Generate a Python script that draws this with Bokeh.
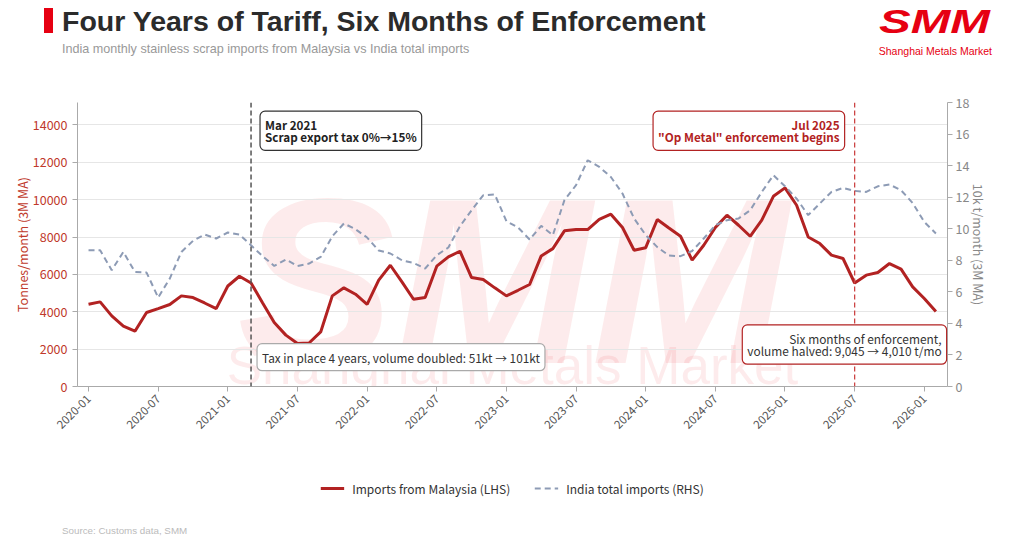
from bokeh.plotting import figure
from bokeh.models import (Range1d, LinearAxis, FixedTicker, Span, Label, Legend, LegendItem,
                          ColumnDataSource, Div)
from bokeh.layouts import column
from bokeh.core.properties import value
from bokeh.embed import file_html
from bokeh.resources import INLINE
import math

# ---------------- data ----------------
start_year = 2020
n_months = 74  # 2020-01 .. 2026-02
month_labels = [f"{start_year + i // 12}-{i % 12 + 1:02d}" for i in range(n_months)]

malaysia_t = [4400, 4530, 3780, 3230, 2960, 3960, 4170, 4390, 4850, 4760, 4470, 4170,
              5380, 5900, 5540, 4470, 3420, 2750, 2300, 2330, 2920, 4850, 5280, 4940,
              4400, 5690, 6490, 5600, 4670, 4760, 6440, 6940, 7240, 5830, 5730, 5280,
              4850, 5150, 5460, 6990, 7380, 8330, 8400, 8400, 8940, 9220, 8510, 7290,
              7430, 8940, 8480, 8040, 6760, 7560, 8510, 9170, 8630, 8040, 8900, 10180,
              10630, 9700, 8000, 7650, 7030, 6850, 5540, 5960, 6100, 6580, 6280, 5330,
              4710, 4010]

india_total_10kt = [8.64, 8.64, 7.37, 8.53, 7.26, 7.22, 5.64, 6.84, 8.53, 9.23, 9.63, 9.38,
                    9.76, 9.63, 8.95, 8.26, 7.64, 8.05, 7.64, 7.79, 8.21, 9.52, 10.33, 9.97,
                    9.44, 8.62, 8.43, 8.00, 7.83, 7.48, 8.32, 8.81, 10.16, 11.17, 12.12, 12.17,
                    10.48, 10.08, 9.32, 10.18, 9.59, 11.81, 12.76, 14.34, 13.92, 13.28, 12.23, 10.65,
                    9.60, 8.83, 8.30, 8.26, 8.59, 9.38, 10.22, 10.54, 10.65, 11.17, 12.33, 13.39,
                    12.69, 11.91, 10.86, 11.60, 12.33, 12.59, 12.40, 12.33, 12.69, 12.80, 12.44, 11.63,
                    10.43, 9.70]

x_tick_labels = ["2020-01", "2020-07", "2021-01", "2021-07", "2022-01", "2022-07", "2023-01",
                 "2023-07", "2024-01", "2024-07", "2025-01", "2025-07", "2026-01"]
left_ticks = [0, 2000, 4000, 6000, 8000, 10000, 12000, 14000]
right_ticks = [0, 2, 4, 6, 8, 10, 12, 14, 16, 18]

event_tax = "2021-03"
event_enf = "2025-07"

title_text = "Four Years of Tariff, Six Months of Enforcement"
subtitle_text = "India monthly stainless scrap imports from Malaysia vs India total imports"
source_text = "Source: Customs data, SMM"
series_names = ["Imports from Malaysia (LHS)", "India total imports (RHS)"]

# ---------------- styling ----------------
FONT = "Noto Sans CJK SC"
LOGO_FONT = "Liberation Sans"
RED_LINE = "#B22222"
BLUE_LINE = "#8D9BB5"
LEFT_COL = "#C0392B"
GRAY = "#888888"
AXIS_GRAY = "#AAAAAA"
DARK = "#222222"
BRAND = "#E60012"
W = 1008

# ---------------- header (inline svg text) ----------------
HH = 94
header_svg = f"""<svg xmlns="http://www.w3.org/2000/svg" width="{W}" height="{HH}" style="display:block">
<rect x="44" y="8" width="9" height="25" fill="{BRAND}"/>
<text x="62" y="30.7" font-family="{FONT}" font-size="28.5" font-weight="bold" fill="#2B2B2B">{title_text}</text>
<text x="62" y="53" font-family="{FONT}" font-size="12.6" fill="#999999">{subtitle_text}</text>
<text x="879" y="33" textLength="111" lengthAdjust="spacingAndGlyphs" font-family="{LOGO_FONT}" font-size="33" font-weight="bold" font-style="italic" fill="{BRAND}">SMM</text>
<text x="992" y="55" text-anchor="end" font-family="{LOGO_FONT}" font-size="10.5" fill="{BRAND}">Shanghai Metals Market</text>
</svg>"""
head = Div(text=header_svg, width=W, height=HH, styles={"margin": "0", "padding": "0"})

# ---------------- main chart ----------------
MH = 362
x_idx = list(range(n_months))
src = ColumnDataSource(dict(x=x_idx, m=malaysia_t, t=india_total_10kt))

xr = Range1d(-0.95, n_months)
yr = Range1d(0, 15200)
p = figure(width=W, height=MH, output_backend="svg", toolbar_location=None,
           x_range=xr, y_range=yr,
           min_border_left=77, min_border_right=61, min_border_top=8, min_border_bottom=70)
p.extra_y_ranges = {"rhs": Range1d(0, 18)}
p.outline_line_color = None
p.background_fill_color = "white"
p.border_fill_color = "white"

# watermark (drawn beneath everything)
wm_x = (xr.start + xr.end) / 2
p.text(x=[wm_x], y=[5650], text=["SMM"], text_font=value(LOGO_FONT), text_font_size="236px",
       text_font_style="bold italic", text_color=BRAND, text_alpha=0.08, text_align="center",
       text_baseline="alphabetic", level="image")
p.text(x=[wm_x], y=[1100], text=["Shanghai Metals Market"], text_font=value(LOGO_FONT),
       text_font_size="53px", text_color=BRAND, text_alpha=0.08, text_align="center",
       text_baseline="alphabetic", level="image")

# grid
p.xgrid.visible = False
p.ygrid.grid_line_color = "#E6E6E6"
p.ygrid.grid_line_width = 1
p.ygrid.ticker = FixedTicker(ticks=left_ticks)

# lines
r_m = p.line("x", "m", source=src, line_color=RED_LINE, line_width=3)
r_t = p.line("x", "t", source=src, y_range_name="rhs", line_color=BLUE_LINE, line_width=2,
             line_dash="6 4")

# axes
xa = p.xaxis[0]
xa.ticker = FixedTicker(ticks=[month_labels.index(l) for l in x_tick_labels])
xa.major_label_overrides = {month_labels.index(l): l for l in x_tick_labels}
xa.major_label_orientation = math.pi / 4
xa.minor_tick_line_color = None
xa.axis_line_color = AXIS_GRAY
xa.major_tick_line_color = AXIS_GRAY
xa.major_tick_in = 0
xa.major_tick_out = 5
xa.major_label_text_color = "#555555"
xa.major_label_text_font = FONT
xa.major_label_text_font_size = "11.5px"

ya = p.yaxis[0]
ya.ticker = FixedTicker(ticks=left_ticks)
ya.minor_tick_line_color = None
ya.axis_line_color = AXIS_GRAY
ya.major_tick_line_color = AXIS_GRAY
ya.major_tick_in = 0
ya.major_tick_out = 5
ya.major_label_text_color = LEFT_COL
ya.major_label_text_font = FONT
ya.major_label_text_font_size = "12.5px"
ya.axis_label = "Tonnes/month (3M MA)"
ya.axis_label_text_color = LEFT_COL
ya.axis_label_text_font = FONT
ya.axis_label_text_font_style = "normal"
ya.axis_label_text_font_size = "12.5px"
ya.axis_label_standoff = -2

ra = LinearAxis(y_range_name="rhs", ticker=FixedTicker(ticks=right_ticks))
ra.minor_tick_line_color = None
ra.axis_line_color = AXIS_GRAY
ra.major_tick_line_color = AXIS_GRAY
ra.major_tick_in = 0
ra.major_tick_out = 5
ra.major_label_standoff = 3
ra.major_label_text_color = GRAY
ra.major_label_text_font = FONT
ra.major_label_text_font_size = "12.5px"
ra.axis_label = "10k t/month (3M MA)"
ra.axis_label_text_color = GRAY
ra.axis_label_text_font = FONT
ra.axis_label_text_font_style = "normal"
ra.axis_label_text_font_size = "12.5px"
ra.axis_label_standoff = -3
p.add_layout(ra, "right")

# event lines
i_tax = month_labels.index(event_tax)
i_enf = month_labels.index(event_enf)
p.add_layout(Span(location=i_tax, dimension="height", line_color="#555555", line_width=1.5,
                  line_dash="5 3"))
p.add_layout(Span(location=i_enf, dimension="height", line_color="#CC4444", line_width=1.3,
                  line_dash="5 3"))


def box_label(**kw):
    base = dict(text_font=FONT, background_fill_color="white", background_fill_alpha=1.0,
                border_line_width=1.2, border_radius=5, padding=5, text_line_height=0.72)
    base.update(kw)
    return Label(**base)


p.add_layout(box_label(x=i_tax, y=14553, y_offset=3.5, x_offset=9,
                       text="Mar 2021\nScrap export tax 0%→15%",
                       text_font_size="11.7px", text_font_style="bold", text_color=DARK,
                       border_line_color="#333333", text_align="left", text_baseline="top"))
p.add_layout(box_label(x=i_tax, y=2210, y_offset=1.5, x_offset=6,
                       text="Tax in place 4 years, volume doubled: 51kt → 101kt",
                       text_font_size="11.8px", text_color="#333333",
                       border_line_color="#AAAAAA", text_align="left", text_baseline="top"))
p.add_layout(box_label(x=i_enf, y=14553, y_offset=3.5, x_offset=-10,
                       text="Jul 2025\n\"Op Metal\" enforcement begins",
                       text_font_size="11.7px", text_font_style="bold", text_color=RED_LINE,
                       border_line_color=RED_LINE, text_align="right", text_baseline="top"))
p.add_layout(box_label(x=i_enf, y=3242, y_offset=1, x_offset=92,
                       text="Six months of enforcement,\nvolume halved: 9,045 → 4,010 t/mo",
                       text_font_size="11.9px", text_color="#333333",
                       border_line_color=RED_LINE, text_align="right", text_baseline="top"))

# ---------------- legend strip ----------------
LH = 64
leg = figure(width=W, height=LH, output_backend="svg", toolbar_location=None,
             x_range=Range1d(-1000, -999), y_range=Range1d(-1000, -999),
             x_axis_location=None, y_axis_location=None,
             min_border_left=77, min_border_right=61, min_border_top=0, min_border_bottom=0)
leg.grid.visible = False
leg.outline_line_color = None
leg.background_fill_color = "white"
leg.border_fill_color = "white"
# same series, out of this strip's view: only their legend samples are shown
lr_m = leg.line("x", "m", source=src, line_color=RED_LINE, line_width=3)
lr_t = leg.line("x", "t", source=src, line_color=BLUE_LINE, line_width=2, line_dash="6 4")
legend = Legend(items=[LegendItem(label=series_names[0], renderers=[lr_m]),
                       LegendItem(label=series_names[1], renderers=[lr_t])],
                orientation="horizontal", location="center", margin=0, padding=5,
                label_text_font=FONT, label_text_font_size="12px", label_text_color="#333333",
                glyph_width=24, label_standoff=8, spacing=24,
                border_line_alpha=0, background_fill_alpha=0)
leg.add_layout(legend, "center")

# ---------------- footer ----------------
FH = 537 - HH - MH - LH
footer_svg = f"""<svg xmlns="http://www.w3.org/2000/svg" width="{W}" height="{FH}" style="display:block">
<text x="62" y="{FH - 3}" font-family="{FONT}" font-size="9.8" fill="#BBBBBB">{source_text}</text>
</svg>"""
foot = Div(text=footer_svg, width=W, height=FH, styles={"margin": "0", "padding": "0"})

layout = column(head, p, leg, foot, spacing=0)
open("out.html", "w").write(file_html(layout, INLINE))
